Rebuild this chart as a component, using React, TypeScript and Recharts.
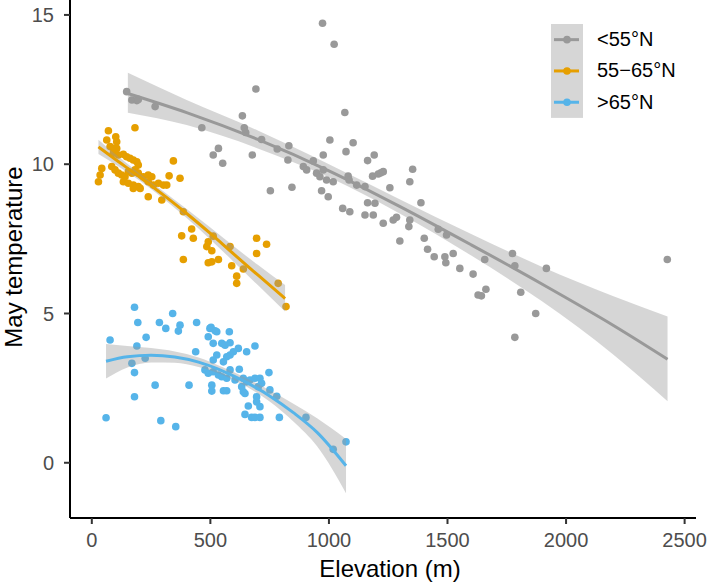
import React from 'react';
import { ComposedChart, Scatter, Line, Area, XAxis, YAxis, Legend, Label } from 'recharts';

const FONT = '"Liberation Sans", Arial, Helvetica, sans-serif';

const groupNames = ['<55°N', '55−65°N', '>65°N'];
const groupColors = ['#999999', '#E69F00', '#56B4E9'];

const xTicks = [0, 500, 1000, 1500, 2000, 2500];
const yTicks = [0, 5, 10, 15];

// elevation (m), May temperature
const southPoints = [
  [147, 12.43], [169, 12.15], [190, 12.13], [196, 12.17], [267, 11.93], [464, 11.22],
  [512, 10.31], [534, 10.53], [552, 10.03], [635, 11.62], [643, 11.22], [649, 11.06],
  [692, 12.52], [677, 10.31], [716, 10.83], [782, 10.51], [827, 10.14], [831, 10.62],
  [753, 9.11], [844, 9.23], [892, 9.92], [906, 9.81], [934, 10.11], [948, 9.7],
  [962, 9.58], [969, 9.11], [976, 9.81], [976, 10.31], [990, 9.47], [997, 8.91],
  [1004, 10.81], [1018, 9.41], [973, 14.72], [1022, 14.02], [1058, 8.52], [1067, 11.73],
  [1072, 10.42], [1081, 9.6], [1085, 9.47], [1088, 8.41], [1102, 10.72], [1117, 9.3],
  [1152, 9.25], [1152, 8.3], [1163, 10.12], [1163, 8.71], [1184, 9.6], [1187, 8.3],
  [1191, 10.31], [1194, 8.69], [1208, 9.67], [1219, 9.71], [1229, 9.75], [1229, 8.02],
  [1257, 9.21], [1271, 8.13], [1285, 8.22], [1299, 7.43], [1337, 7.91], [1341, 8.13],
  [1341, 9.41], [1353, 9.83], [1388, 8.71], [1402, 7.52], [1416, 7.15], [1444, 6.9],
  [1461, 7.82], [1489, 6.9], [1493, 6.7], [1496, 7.63], [1524, 7.01], [1552, 6.51],
  [1608, 6.32], [1629, 5.62], [1643, 5.59], [1657, 6.81], [1662, 5.81], [1774, 7.01],
  [1784, 6.6], [1784, 4.2], [1809, 5.71], [1872, 5.0], [1917, 6.51], [2427, 6.81],
];

const midPoints = [
  [70, 11.12], [182, 11.22], [101, 10.92], [105, 10.75], [63, 10.81], [77, 10.59],
  [91, 10.53], [105, 10.53], [91, 10.37], [112, 10.31], [133, 10.33], [147, 10.25],
  [161, 10.2], [175, 10.14], [190, 10.08], [196, 9.97], [42, 9.86], [35, 9.64],
  [28, 9.41], [84, 9.92], [98, 9.81], [112, 9.7], [126, 9.64], [140, 9.58],
  [154, 9.75], [169, 9.7], [182, 9.81], [196, 9.7], [133, 9.41], [154, 9.36],
  [175, 9.3], [196, 9.25], [217, 9.58], [238, 9.64], [253, 9.58], [238, 9.41],
  [260, 9.3], [281, 9.36], [302, 9.3], [316, 9.3], [344, 10.11], [326, 9.61],
  [372, 9.53], [175, 9.19], [204, 9.19], [238, 8.91], [295, 8.8], [386, 8.41],
  [379, 7.6], [421, 7.83], [428, 7.52], [386, 6.81], [491, 7.4], [512, 7.59],
  [485, 7.24], [506, 7.1], [491, 6.7], [506, 6.73], [534, 6.81], [583, 7.24],
  [590, 6.6], [611, 6.25], [611, 6.01], [639, 6.49], [695, 7.52], [737, 7.32],
  [695, 7.01], [786, 6.01], [819, 5.23],
];

const northPoints = [
  [60, 1.51], [77, 4.11], [180, 5.21], [194, 4.7], [190, 3.91], [229, 4.2],
  [169, 3.33], [180, 3.02], [180, 2.21], [225, 3.5], [267, 2.6], [291, 1.41],
  [354, 1.21], [285, 4.7], [312, 4.5], [341, 5.0], [372, 4.61], [365, 4.41],
  [442, 4.7], [438, 3.72], [410, 2.6], [498, 4.5], [527, 4.39], [512, 4.0],
  [491, 4.22], [580, 4.39], [503, 4.54], [520, 4.42], [548, 4.0], [562, 3.94],
  [583, 4.02], [688, 3.91], [618, 3.83], [653, 3.72], [597, 3.72], [583, 3.61],
  [569, 3.55], [527, 3.61], [512, 3.44], [555, 3.38], [477, 3.11], [491, 3.0],
  [512, 3.05], [534, 2.94], [548, 2.88], [569, 2.83], [583, 3.11], [622, 3.13],
  [604, 2.77], [639, 2.83], [653, 2.71], [667, 2.77], [688, 2.83], [709, 2.83],
  [716, 2.66], [702, 2.55], [747, 3.02], [632, 2.55], [639, 2.38], [646, 2.32],
  [555, 2.41], [569, 2.41], [506, 2.6], [506, 2.4], [695, 2.21], [695, 2.04],
  [751, 2.44], [780, 2.23], [660, 1.9], [709, 1.88], [646, 1.62], [674, 1.52],
  [688, 1.52], [709, 1.52], [791, 1.52], [903, 1.52], [1018, 0.45], [1072, 0.7],
];

// fitted smooth + confidence band
const southFitX = [152, 400, 700, 1000, 1300, 1600, 1900, 2200, 2428];
const southFit = [12.37, 11.73, 10.83, 9.78, 8.58, 7.3, 5.98, 4.6, 3.47];
const southLo = [11.72, 11.31, 10.53, 9.56, 8.34, 6.94, 5.4, 3.62, 2.06];
const southHi = [13.06, 12.15, 11.13, 10.0, 8.82, 7.66, 6.56, 5.58, 4.9];

const midFitX = [28, 100, 200, 300, 400, 500, 600, 700, 815];
const midFit = [10.58, 10.16, 9.58, 8.98, 8.35, 7.68, 6.98, 6.29, 5.5];
const midLo = [10.34, 9.99, 9.46, 8.86, 8.2, 7.48, 6.72, 5.95, 5.07];
const midHi = [10.82, 10.33, 9.7, 9.1, 8.5, 7.88, 7.24, 6.63, 5.95];

const northFitX = [60, 150, 250, 350, 450, 550, 650, 750, 850, 950, 1072];
const northFit = [3.4, 3.55, 3.6, 3.54, 3.37, 3.08, 2.7, 2.24, 1.68, 1.02, -0.1];
const northLo = [2.82, 3.19, 3.36, 3.35, 3.21, 2.95, 2.56, 2.05, 1.38, 0.55, -1.02];
const northHi = [3.98, 3.91, 3.84, 3.73, 3.53, 3.21, 2.84, 2.43, 1.98, 1.49, 0.8];

const toPoints = (pts: number[][]) => pts.map(([x, y]) => ({ x, y }));
const toSmooth = (xs: number[], fit: number[], lo: number[], hi: number[]) =>
  xs.map((x, i) => ({ x, y: fit[i], band: [lo[i], hi[i]] }));

const pointSets = [toPoints(southPoints), toPoints(midPoints), toPoints(northPoints)];
const smoothSets = [
  toSmooth(southFitX, southFit, southLo, southHi),
  toSmooth(midFitX, midFit, midLo, midHi),
  toSmooth(northFitX, northFit, northLo, northHi),
];

const dot = (color: string) => (props: any) => (
  <circle cx={props.cx} cy={props.cy} r={3.8} fill={color} />
);

const rowH = 31.3;

const renderLegend = () => (
  <div style={{ position: 'relative', width: 150, height: rowH * 3, fontFamily: FONT }}>
    <svg width={32} height={rowH * 3} style={{ position: 'absolute', left: 0, top: 0 }}>
      <rect x={0} y={0} width={32} height={rowH * 3} fill="#D6D6D6" />
      {groupColors.map((c, i) => (
        <g key={c}>
          <line x1={3} x2={28} y1={rowH * i + rowH / 2} y2={rowH * i + rowH / 2} stroke={c} strokeWidth={3} />
          <circle cx={16} cy={rowH * i + rowH / 2} r={3.8} fill={c} />
        </g>
      ))}
    </svg>
    {groupNames.map((name, i) => (
      <div
        key={name}
        style={{
          position: 'absolute', left: 46, top: rowH * i, height: rowH,
          display: 'flex', alignItems: 'center', fontSize: 20, color: '#000', whiteSpace: 'nowrap',
        }}
      >
        {name}
      </div>
    ))}
  </div>
);

export default function App() {
  return (
    <div style={{ position: 'absolute', left: 0, top: 0, background: '#fff' }}>
      <ComposedChart width={709} height={586} margin={{ top: 0, right: 13, bottom: 0, left: 0 }}>
        <XAxis
          type="number" dataKey="x" domain={[-92, 2548]} ticks={xTicks} allowDataOverflow height={68}
          axisLine={{ stroke: '#000', strokeWidth: 2 }} tickLine={{ stroke: '#333', strokeWidth: 2 }}
          tickSize={6} tickMargin={9} tick={{ fill: '#4D4D4D', fontSize: 20, fontFamily: FONT }}
        >
          <Label
            content={(p: any) => (
              <text x={p.viewBox.x + p.viewBox.width / 2 + 7} y={p.viewBox.y + p.viewBox.height - 9.3}
                textAnchor="middle" fontSize={24} fontFamily={FONT} fill="#000">
                Elevation (m)
              </text>
            )}
          />
        </XAxis>
        <YAxis
          type="number" dataKey="y" domain={[-1.85, 15.5]} ticks={yTicks} allowDataOverflow width={70}
          axisLine={{ stroke: '#000', strokeWidth: 2 }} tickLine={{ stroke: '#333', strokeWidth: 2 }}
          tickSize={6} tickMargin={10} tick={{ fill: '#4D4D4D', fontSize: 20, fontFamily: FONT }}
        >
          <Label
            content={() => (
              <text x={21.7} y={257} transform="rotate(-90, 21.7, 257)" textAnchor="middle"
                fontSize={24} fontFamily={FONT} fill="#000">
                May temperature
              </text>
            )}
          />
        </YAxis>
        {pointSets.map((pts, i) => (
          <Scatter key={'s' + i} data={pts} shape={dot(groupColors[i])} isAnimationActive={false} zIndex={50} />
        ))}
        {smoothSets.map((sm, i) => (
          <Area key={'a' + i} data={sm} dataKey="band" type="monotone" stroke="none" fill="#999999"
            fillOpacity={0.4} isAnimationActive={false} zIndex={100} />
        ))}
        {smoothSets.map((sm, i) => (
          <Line key={'l' + i} data={sm} dataKey="y" type="monotone" stroke={groupColors[i]} strokeWidth={3}
            dot={false} activeDot={false} isAnimationActive={false} zIndex={400} />
        ))}
        <Legend
          content={renderLegend} layout="vertical" align="center" verticalAlign="middle"
          wrapperStyle={{ left: 551, top: 24, width: 150, height: rowH * 3 }}
        />
      </ComposedChart>
    </div>
  );
}
